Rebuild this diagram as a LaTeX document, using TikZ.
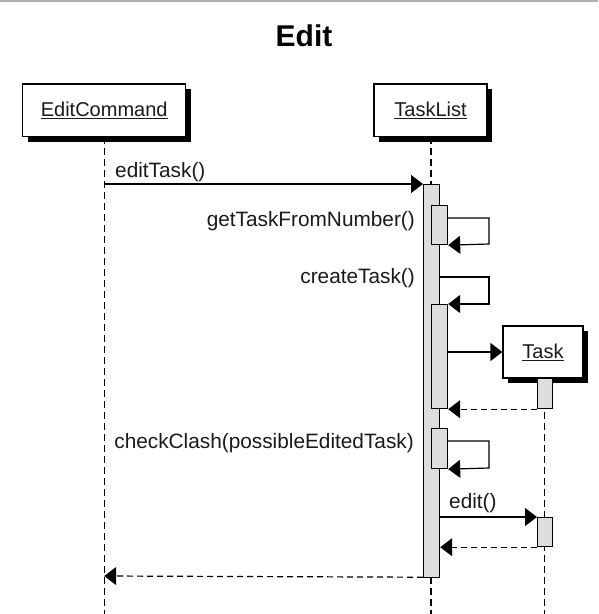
\documentclass[tikz,border=0pt]{standalone}
\usepackage{fontspec}
\setmainfont{Liberation Sans}
\usetikzlibrary{arrows.meta,shadows}
\definecolor{actfill}{HTML}{DDDDDD}
\definecolor{topline}{HTML}{B0B0B0}
\definecolor{txt}{HTML}{1A1A1A}
\tikzset{
  obj/.style={draw, fill=white, line width=1.2pt, rectangle, inner sep=0pt,
    font=\fontsize{20}{24}\selectfont, text=txt,
    drop shadow={shadow xshift=5pt, shadow yshift=-5pt, fill=black, opacity=1}},
  act/.style={draw, fill=actfill, line width=1.2pt, rectangle, inner sep=0pt, anchor=north west},
  life/.style={line width=1.2pt, dash pattern=on 7pt off 4pt},
  msg/.style={line width=1.2pt, -{Triangle[length=12pt,width=18pt]}},
  ret/.style={line width=1.2pt, dash pattern=on 6pt off 4pt, -{Triangle[length=12pt,width=18pt]}},
  lbl/.style={font=\fontsize{20.8}{24}\selectfont, inner sep=0pt, text=txt},
}
\begin{document}
\begin{tikzpicture}[x=1pt,y=-1pt]
\useasboundingbox (0,0) rectangle (598,614);
\draw[topline, line width=1.5pt] (0,0.75) -- (598,0.75);
\node[font=\fontsize{30}{36}\selectfont\bfseries] (title) at (304,36) {Edit};
% objects
\node[obj, minimum width=163pt, minimum height=52.7pt] (ec) at (104.2,110.3) {\underline{EditCommand}};
\node[obj, minimum width=113pt, minimum height=52.7pt] (tl) at (430.5,110.3) {\underline{TaskList}};
% lifelines
\coordinate (ecend) at (104.2,614);
\coordinate (tlend) at (431,614);
\coordinate (tkend) at (544.5,614);
\draw[life] (ec.south) -- (ecend);
\draw[life] (tl.south -| tlend) -- (tlend);
% Task object and its lifeline
\node[obj, minimum width=80pt, minimum height=52pt] (tk) at (543,352) {\underline{Task}};
\draw[life] (tk.south -| tkend) -- (tkend);
% activations
\node[act, minimum width=16pt, minimum height=393pt] (a0) at (423,184) {};
\node[act, minimum width=16pt, minimum height=39pt] (a1) at (431,205) {};
\node[act, minimum width=16pt, minimum height=104pt] (a2) at (431,304) {};
\node[act, minimum width=16pt, minimum height=40pt] (a3) at (431,428) {};
\node[act, minimum width=15pt, minimum height=30pt] (t1) at (537,378) {};
\node[act, minimum width=15pt, minimum height=29pt] (t2) at (537,517) {};
% messages
\coordinate (m1) at (104.2,184);
\draw[msg] (m1) -- (a0.north west);
\node[lbl, anchor=west] (l1) at (115,172) {editTask()};
% self call 1
\coordinate (s1a) at (447,218);
\coordinate (s1b) at (489,244);
\draw[msg] (s1a) -| (s1b) -- (a1.south east);
\node[lbl, anchor=east] (l2) at (415,221) {getTaskFromNumber()};
% self call 2
\coordinate (s2a) at (439,277);
\coordinate (s2b) at (489,304);
\draw[msg] (s2a) -| (s2b) -- (a2.north east);
\node[lbl, anchor=east] (l3) at (415,278) {createTask()};
% create
\draw[msg] (a2.east |- tk.west) -- (tk.west);
\draw[ret] (t1.south west) -- (a2.south east);
% self call 3
\coordinate (s3a) at (447,441);
\coordinate (s3b) at (489,468);
\draw[msg] (s3a) -| (s3b) -- (a3.south east);
\node[lbl, anchor=east] (l4) at (414,443) {checkClash(possibleEditedTask)};
% edit
\draw[msg] (a0.east |- t2.north west) -- (t2.north west);
\node[lbl, anchor=west] (l5) at (449,503) {edit()};
\draw[ret] (t2.south west) -- (a0.east |- t2.south west);
% final return
\draw[ret] ([yshift=1pt]a0.south west) -- (ec.south |- 0,576);
\end{tikzpicture}
\end{document}
